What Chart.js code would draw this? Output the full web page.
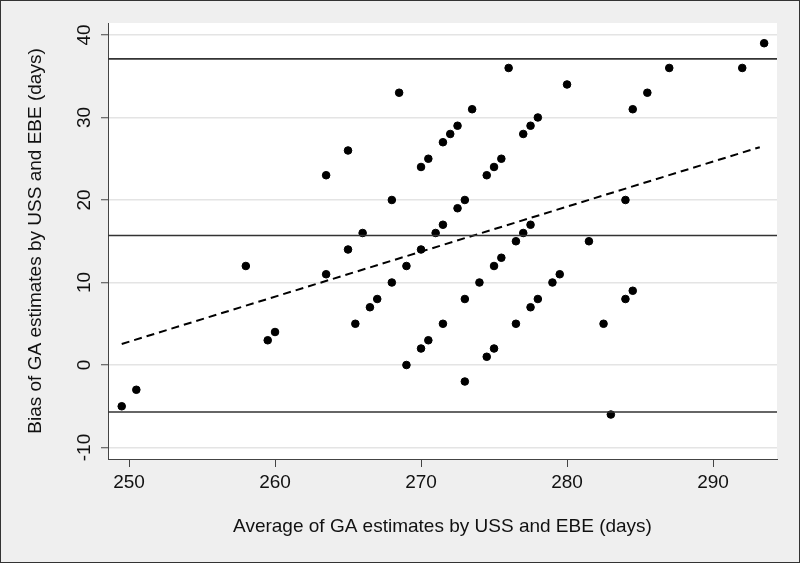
<!DOCTYPE html>
<html>
<head>
<meta charset="utf-8">
<script src="https://cdn.jsdelivr.net/npm/chart.js@4/dist/chart.umd.min.js"></script>
<style>
  html, body { margin: 0; padding: 0; background: #efefef; }
  canvas { display: block; }
</style>
</head>
<body>
<canvas id="grafica" width="800" height="563"></canvas>
<script>
// Datos (Bland-Altman)
const avgGA = [249.5, 250.5, 258, 259.5, 260, 263.5, 263.5, 265, 265, 265.5, 266, 266.5, 267, 268, 268, 268.5, 269, 269,
  270, 270, 270, 270.5, 270.5, 271, 271.5, 271.5, 271.5, 272, 272.5, 272.5, 273, 273, 273, 273.5, 274, 274.5, 274.5,
  275, 275, 275, 275.5, 275.5, 276, 276.5, 276.5, 277, 277, 277.5, 277.5, 277.5, 278, 278, 279, 279.5, 280, 281.5,
  282.5, 283, 284, 284, 284.5, 284.5, 285.5, 287, 292, 293.5];
const biasGA = [-5, -3, 12, 3, 4, 23, 11, 26, 14, 5, 16, 7, 8, 20, 10, 33, 12, 0,
  24, 14, 2, 25, 3, 16, 27, 17, 5, 28, 29, 19, 20, 8, -2, 31, 10, 23, 1,
  24, 12, 2, 25, 13, 36, 15, 5, 28, 16, 29, 17, 7, 30, 8, 10, 11, 34, 15,
  5, -6, 20, 8, 31, 9, 33, 36, 36, 39];

// Media y límites de acuerdo
const meanBias = 15.7;
const upperLimit = 37.1;
const lowerLimit = -5.7;

// Recta de regresión (extremos)
const fitX = [249.5, 293.2];
const fitY = [2.55, 26.4];

// Ejes
const xTicks = [250, 260, 270, 280, 290];
const yTicks = [-10, 0, 10, 20, 30, 40];
const xMin = 248.56, xMax = 294.38;
const yMin = -11.39, yMax = 41.45;

const xTitle = 'Average of GA estimates by USS and EBE (days)';
const yTitle = 'Bias of GA estimates by USS and EBE (days)';

let fuente = { family: '"Liberation Sans", Arial, sans-serif', size: 19 };

function hLine(v) {
  return [{ x: xMin, y: v }, { x: xMax, y: v }];
}

// Fondo gris, área blanca y marco
const fondo = {
  id: 'fondo',
  beforeDraw(chart) {
    let ctx = chart.ctx;
    let a = chart.chartArea;
    ctx.save();
    ctx.fillStyle = '#efefef';
    ctx.fillRect(0, 0, chart.width, chart.height);
    ctx.fillStyle = '#ffffff';
    ctx.fillRect(a.left, a.top, a.right - a.left, a.bottom - a.top);
    ctx.strokeStyle = '#333333';
    ctx.lineWidth = 1;
    ctx.strokeRect(0.5, 0.5, chart.width - 1, chart.height - 1);
    ctx.restore();
  }
};

let lineStyle = {
  type: 'line',
  borderColor: '#333333',
  borderWidth: 1.6,
  pointRadius: 0,
  fill: false
};

new Chart(document.getElementById('grafica'), {
  type: 'scatter',
  data: {
    datasets: [
      Object.assign({ data: hLine(upperLimit) }, lineStyle),
      Object.assign({ data: hLine(meanBias) }, lineStyle),
      Object.assign({ data: hLine(lowerLimit) }, lineStyle),
      {
        type: 'line',
        data: fitX.map((x, i) => ({ x: x, y: fitY[i] })),
        borderColor: '#000000',
        borderWidth: 2,
        borderDash: [8, 5],
        pointRadius: 0,
        fill: false
      },
      {
        data: avgGA.map((x, i) => ({ x: x, y: biasGA[i] })),
        backgroundColor: '#000000',
        borderColor: '#000000',
        pointRadius: 3.8,
        pointHoverRadius: 3.8
      }
    ]
  },
  options: {
    responsive: false,
    animation: false,
    events: [],
    layout: { padding: { left: 0, top: 23, right: 23, bottom: 0 } },
    plugins: {
      legend: { display: false },
      tooltip: { enabled: false }
    },
    scales: {
      x: {
        type: 'linear',
        min: xMin,
        max: xMax,
        afterBuildTicks: s => { s.ticks = xTicks.map(v => ({ value: v })); },
        afterFit: s => { s.height = 104; },
        border: { color: '#444444', width: 1 },
        grid: { drawOnChartArea: false, drawTicks: true, tickLength: 8, tickColor: '#444444', tickWidth: 1 },
        ticks: { color: '#111111', font: fuente, padding: 4, maxRotation: 0 },
        title: { display: true, text: xTitle, color: '#111111', font: fuente, padding: { top: 0, bottom: 24.6 } }
      },
      y: {
        type: 'linear',
        min: yMin,
        max: yMax,
        afterBuildTicks: s => { s.ticks = yTicks.map(v => ({ value: v })); },
        afterFit: s => { s.width = 108; },
        border: { color: '#444444', width: 1 },
        grid: { color: '#e4e4e4', lineWidth: 1.5, drawTicks: true, tickLength: 7, tickColor: '#444444', tickWidth: 1 },
        ticks: { color: '#111111', font: fuente, padding: 3, minRotation: 90, maxRotation: 90, crossAlign: 'center' },
        title: { display: true, text: yTitle, color: '#111111', font: fuente, padding: { top: 24.4, bottom: 0 } }
      }
    }
  },
  plugins: [fondo]
});
</script>
</body>
</html>
